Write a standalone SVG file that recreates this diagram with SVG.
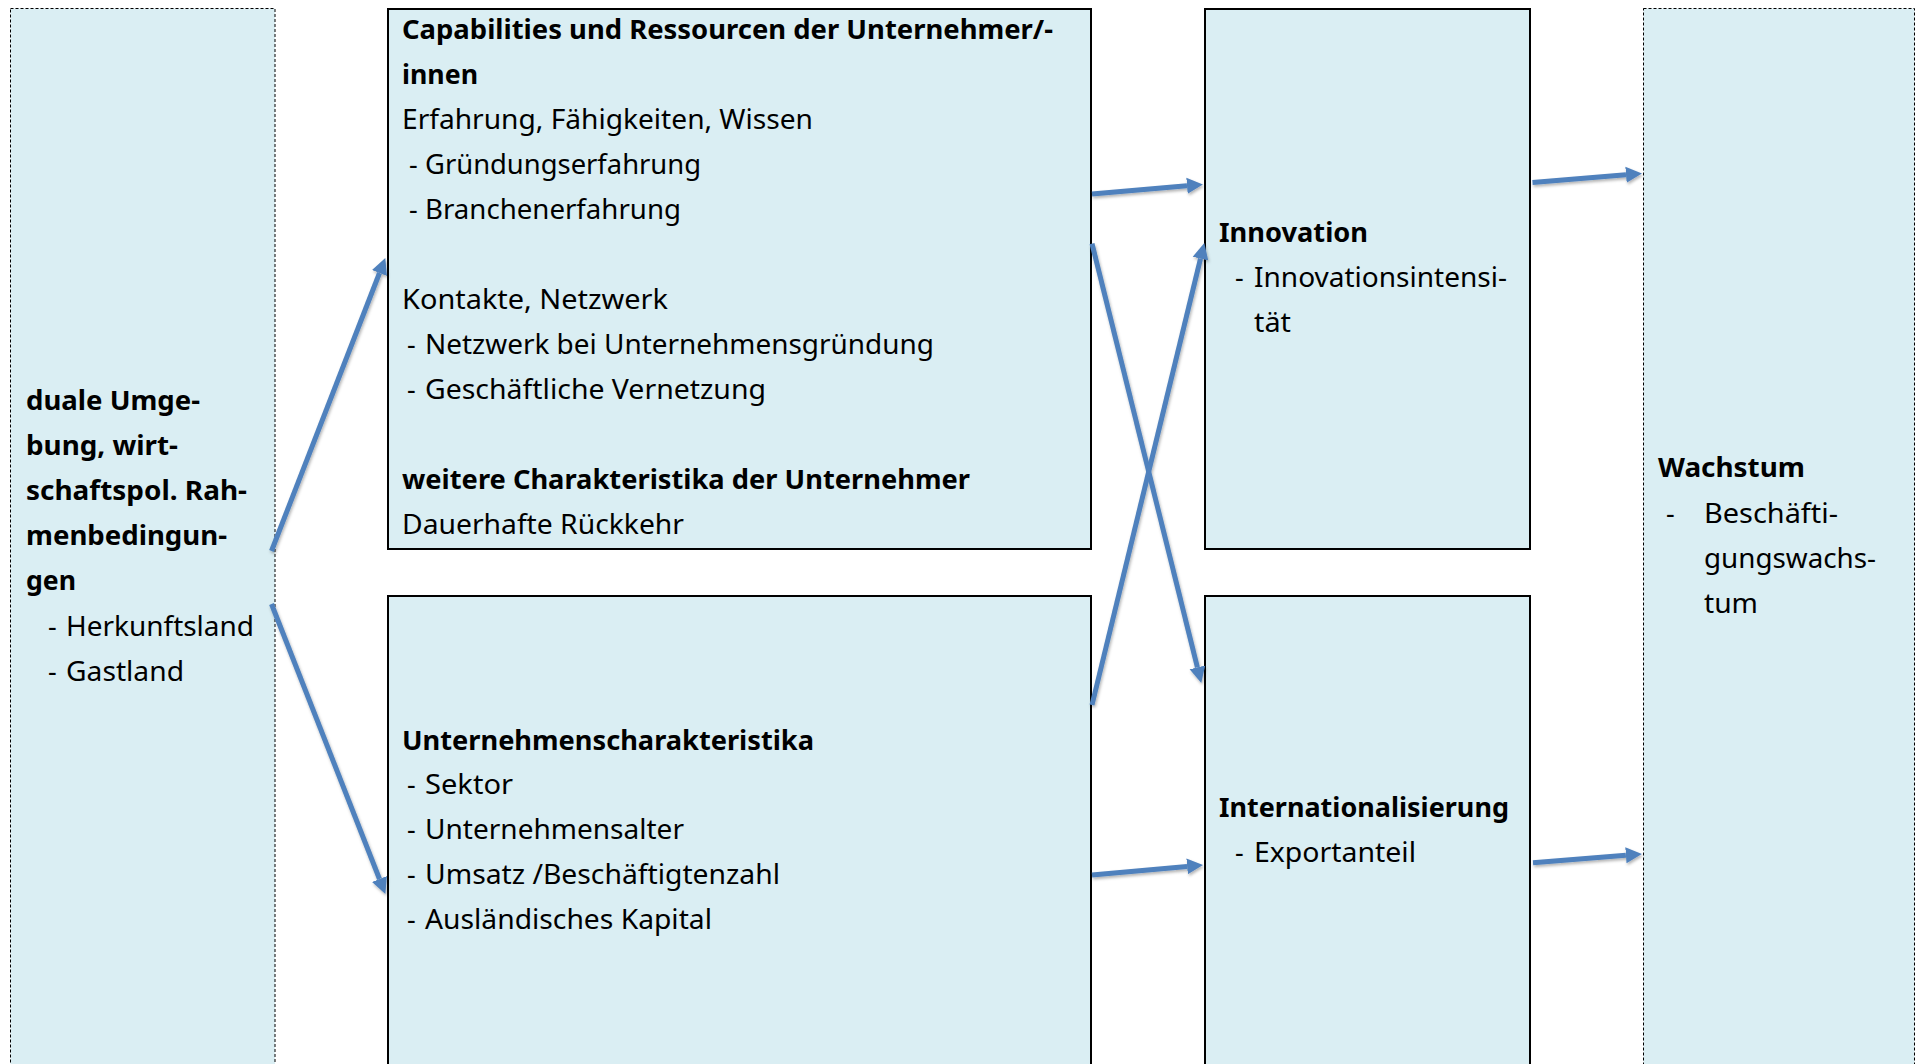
<svg xmlns="http://www.w3.org/2000/svg" width="1916" height="1064" viewBox="0 0 1916 1064">
<defs>
<style>
.box{fill:#DAEEF3;stroke:#000;stroke-width:2}
.dbox{fill:#DAEEF3;stroke:#000;stroke-width:1;stroke-dasharray:3 2}
text{font-family:"Noto Sans","Open Sans",sans-serif;font-size:27px;fill:#000}
.b{font-weight:700}
.conn line{stroke:#4F81BD;stroke-width:5;marker-end:url(#ah)}
</style>
<marker id="ah" markerUnits="userSpaceOnUse" markerWidth="18" markerHeight="18" refX="0" refY="8" orient="auto" viewBox="0 0 18 16">
<path d="M0,0 L16,8 L0,16 Z" fill="#4F81BD"/>
</marker>
<filter id="sh" x="-20%" y="-20%" width="140%" height="140%">
<feDropShadow dx="1" dy="2" stdDeviation="1.5" flood-color="#000" flood-opacity="0.3"/>
</filter>
</defs>
<rect width="1916" height="1064" fill="#fff"/>

<g id="node-rahmen">
<rect class="dbox" x="10.5" y="8.5" width="264.5" height="1070"/>
<text class="b" x="26" y="410" textLength="174" lengthAdjust="spacingAndGlyphs">duale Umge-</text>
<text class="b" x="26" y="455" textLength="152" lengthAdjust="spacingAndGlyphs">bung, wirt-</text>
<text class="b" x="26" y="500" textLength="221" lengthAdjust="spacingAndGlyphs">schaftspol. Rah-</text>
<text class="b" x="26" y="545" textLength="201" lengthAdjust="spacingAndGlyphs">menbedingun-</text>
<text class="b" x="26" y="590" textLength="50" lengthAdjust="spacingAndGlyphs">gen</text>
<text x="48" y="636">-</text>
<text x="66" y="636" textLength="188" lengthAdjust="spacingAndGlyphs">Herkunftsland</text>
<text x="48" y="681">-</text>
<text x="66" y="681" textLength="118" lengthAdjust="spacingAndGlyphs">Gastland</text>
</g>

<g id="node-capabilities">
<rect class="box" x="388" y="9" width="703" height="540"/>
<text class="b" x="402" y="39" textLength="651" lengthAdjust="spacingAndGlyphs">Capabilities und Ressourcen der Unternehmer/-</text>
<text class="b" x="402" y="84" textLength="76" lengthAdjust="spacingAndGlyphs">innen</text>
<text x="402" y="129" textLength="411" lengthAdjust="spacingAndGlyphs">Erfahrung, Fähigkeiten, Wissen</text>
<text x="409" y="174">-</text>
<text x="425" y="174" textLength="276" lengthAdjust="spacingAndGlyphs">Gründungserfahrung</text>
<text x="409" y="219">-</text>
<text x="425" y="219" textLength="256" lengthAdjust="spacingAndGlyphs">Branchenerfahrung</text>
<text x="402" y="309" textLength="266" lengthAdjust="spacingAndGlyphs">Kontakte, Netzwerk</text>
<text x="407" y="354">-</text>
<text x="425" y="354" textLength="509" lengthAdjust="spacingAndGlyphs">Netzwerk bei Unternehmensgründung</text>
<text x="407" y="399">-</text>
<text x="425" y="399" textLength="341" lengthAdjust="spacingAndGlyphs">Geschäftliche Vernetzung</text>
<text class="b" x="402" y="489" textLength="568" lengthAdjust="spacingAndGlyphs">weitere Charakteristika der Unternehmer</text>
<text x="402" y="534" textLength="282" lengthAdjust="spacingAndGlyphs">Dauerhafte Rückkehr</text>
</g>

<g id="node-unternehmen">
<rect class="box" x="388" y="596" width="703" height="480"/>
<text class="b" x="402" y="750" textLength="412" lengthAdjust="spacingAndGlyphs">Unternehmenscharakteristika</text>
<text x="407" y="794">-</text>
<text x="425" y="794" textLength="88" lengthAdjust="spacingAndGlyphs">Sektor</text>
<text x="407" y="839">-</text>
<text x="425" y="839" textLength="259" lengthAdjust="spacingAndGlyphs">Unternehmensalter</text>
<text x="407" y="884">-</text>
<text x="425" y="884" textLength="355" lengthAdjust="spacingAndGlyphs">Umsatz /Beschäftigtenzahl</text>
<text x="407" y="929">-</text>
<text x="425" y="929" textLength="287" lengthAdjust="spacingAndGlyphs">Ausländisches Kapital</text>
</g>

<g id="node-innovation">
<rect class="box" x="1205" y="9" width="325" height="540"/>
<text class="b" x="1219" y="242" textLength="149" lengthAdjust="spacingAndGlyphs">Innovation</text>
<text x="1235" y="287">-</text>
<text x="1254" y="287" textLength="253" lengthAdjust="spacingAndGlyphs">Innovationsintensi-</text>
<text x="1254" y="332" textLength="37" lengthAdjust="spacingAndGlyphs">tät</text>
</g>

<g id="node-internationalisierung">
<rect class="box" x="1205" y="596" width="325" height="480"/>
<text class="b" x="1219" y="817" textLength="290" lengthAdjust="spacingAndGlyphs">Internationalisierung</text>
<text x="1235" y="862">-</text>
<text x="1254" y="862" textLength="162" lengthAdjust="spacingAndGlyphs">Exportanteil</text>
</g>

<g id="node-wachstum">
<rect class="dbox" x="1643.5" y="8.5" width="271" height="1070"/>
<text class="b" x="1658" y="477" textLength="147" lengthAdjust="spacingAndGlyphs">Wachstum</text>
<text x="1666" y="523">-</text>
<text x="1704" y="523" textLength="134" lengthAdjust="spacingAndGlyphs">Beschäfti-</text>
<text x="1704" y="568" textLength="172" lengthAdjust="spacingAndGlyphs">gungswachs-</text>
<text x="1704" y="613" textLength="54" lengthAdjust="spacingAndGlyphs">tum</text>
</g>

<g id="connectors" class="conn" filter="url(#sh)">
<line x1="271.5" y1="551" x2="379.5" y2="273"/>
<line x1="271.5" y1="604" x2="379.5" y2="879"/>
<line x1="1092" y1="194" x2="1187" y2="185.8"/>
<line x1="1092" y1="243.6" x2="1197.4" y2="667.4"/>
<line x1="1092" y1="705" x2="1200.5" y2="258.6"/>
<line x1="1092" y1="875" x2="1187.1" y2="866.4"/>
<line x1="1532.5" y1="182.5" x2="1626" y2="174.8"/>
<line x1="1533" y1="862.7" x2="1625.9" y2="855.2"/>
</g>
</svg>
